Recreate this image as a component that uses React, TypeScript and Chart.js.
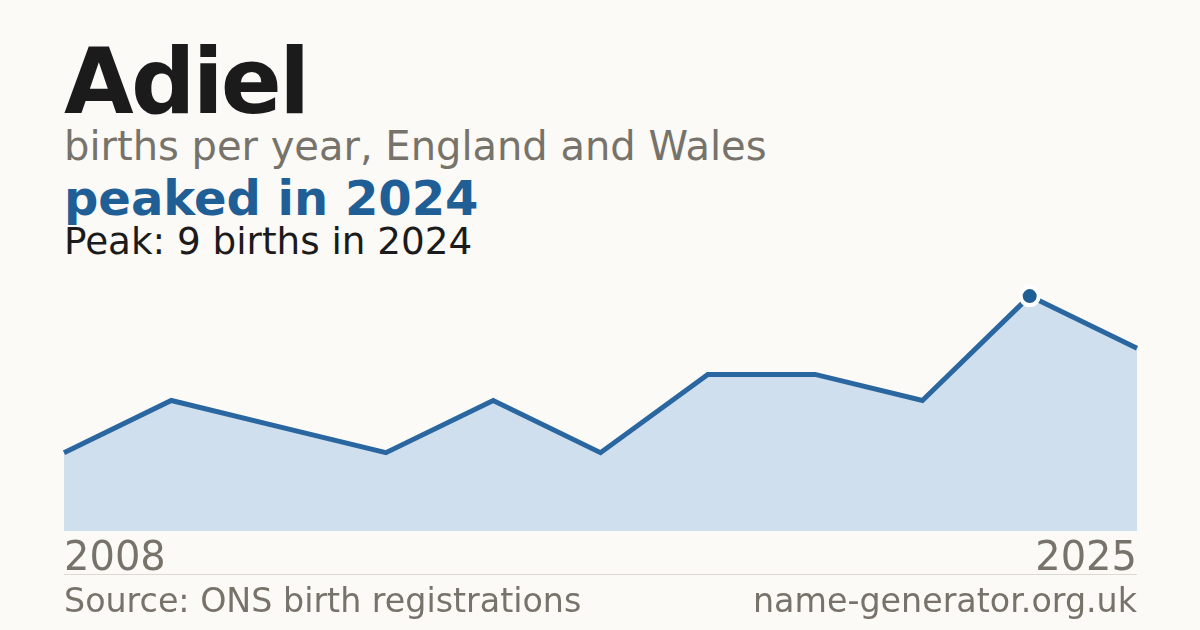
import React, { useEffect, useRef } from "react";
import { Chart, registerables } from "chart.js";

Chart.register(...registerables);

const YEARS = [2008, 2010, 2012, 2013, 2015, 2016, 2018, 2019, 2022, 2024, 2025];
const BIRTHS = [3, 5, 4, 3, 5, 3, 6, 6, 5, 9, 7];
const PEAK_YEAR = 2024;

const FONT = "'DejaVu Sans', Verdana, sans-serif";
const BG = "#fbfaf6";
const GREY = "#77736b";
const DARK = "#1b1b1b";
const BLUE = "#1f5f96";
const LINE = "#2a67a0";
const FILL = "#cfdfee";

export default function App() {
  const ref = useRef<HTMLCanvasElement | null>(null);

  useEffect(() => {
    const canvas = ref.current;
    if (!canvas) return;
    const peakIdx = YEARS.indexOf(PEAK_YEAR);
    const last = YEARS.length - 1;
    const chart = new Chart(canvas, {
      type: "line",
      data: {
        labels: YEARS.map(String),
        datasets: [
          {
            data: BIRTHS,
            borderColor: LINE,
            borderWidth: 5,
            borderJoinStyle: "miter",
            backgroundColor: FILL,
            fill: "origin",
            tension: 0,
            pointRadius: BIRTHS.map((_, i) => (i === peakIdx ? 9 : 0)),
            pointHoverRadius: BIRTHS.map((_, i) => (i === peakIdx ? 9 : 0)),
            pointBackgroundColor: BLUE,
            pointBorderColor: "#ffffff",
            pointBorderWidth: 4,
            clip: false as any,
          },
        ],
      },
      options: {
        animation: false,
        responsive: false,
        maintainAspectRatio: false,
        events: [],
        layout: { padding: { left: 64, right: 63, top: 1, bottom: 0 } },
        plugins: { legend: { display: false }, tooltip: { enabled: false } },
        scales: {
          x: {
            offset: false,
            grid: { display: false, drawTicks: false },
            border: { display: false },
            ticks: {
              autoSkip: false,
              maxRotation: 0,
              minRotation: 0,
              align: "inner",
              padding: 5,
              color: GREY,
              font: { family: FONT, size: 40 },
              callback: (_v: any, i: number) =>
                i === 0 || i === last ? String(YEARS[i]) : "",
            },
          },
          y: { display: false, min: 0, max: 10 },
        },
      },
    });
    return () => chart.destroy();
  }, []);

  const abs = (o: React.CSSProperties): React.CSSProperties => ({
    position: "absolute",
    margin: 0,
    lineHeight: 1,
    whiteSpace: "nowrap",
    fontFamily: FONT,
    ...o,
  });

  return (
    <div
      style={{
        position: "fixed",
        left: 0,
        top: 0,
        width: 1200,
        height: 630,
        background: BG,
        overflow: "hidden",
      }}
    >
      <div style={abs({ left: 64, top: 36.6, fontSize: 90, fontWeight: 700, color: DARK, letterSpacing: "-2.7px" })}>
        Adiel
      </div>
      <div style={abs({ left: 64, top: 125.5, fontSize: 40, color: GREY })}>
        births per year, England and Wales
      </div>
      <div style={abs({ left: 64, top: 173.7, fontSize: 48, fontWeight: 700, color: BLUE })}>
        peaked in 2024
      </div>
      <div style={abs({ left: 64, top: 222.5, fontSize: 37.3, color: DARK })}>
        Peak: 9 births in 2024
      </div>
      <canvas
        ref={ref}
        width={1200}
        height={320}
        style={{ position: "absolute", left: 0, top: 269, width: 1200, height: 320 }}
      />
      <div style={{ position: "absolute", left: 64, top: 574, width: 1073, height: 1, background: "#dcd9d2" }} />
      <div style={abs({ left: 64, top: 584, fontSize: 33.3, color: GREY })}>
        Source: ONS birth registrations
      </div>
      <div style={abs({ right: 63, top: 584, fontSize: 33.3, color: GREY })}>
        name-generator.org.uk
      </div>
    </div>
  );
}
